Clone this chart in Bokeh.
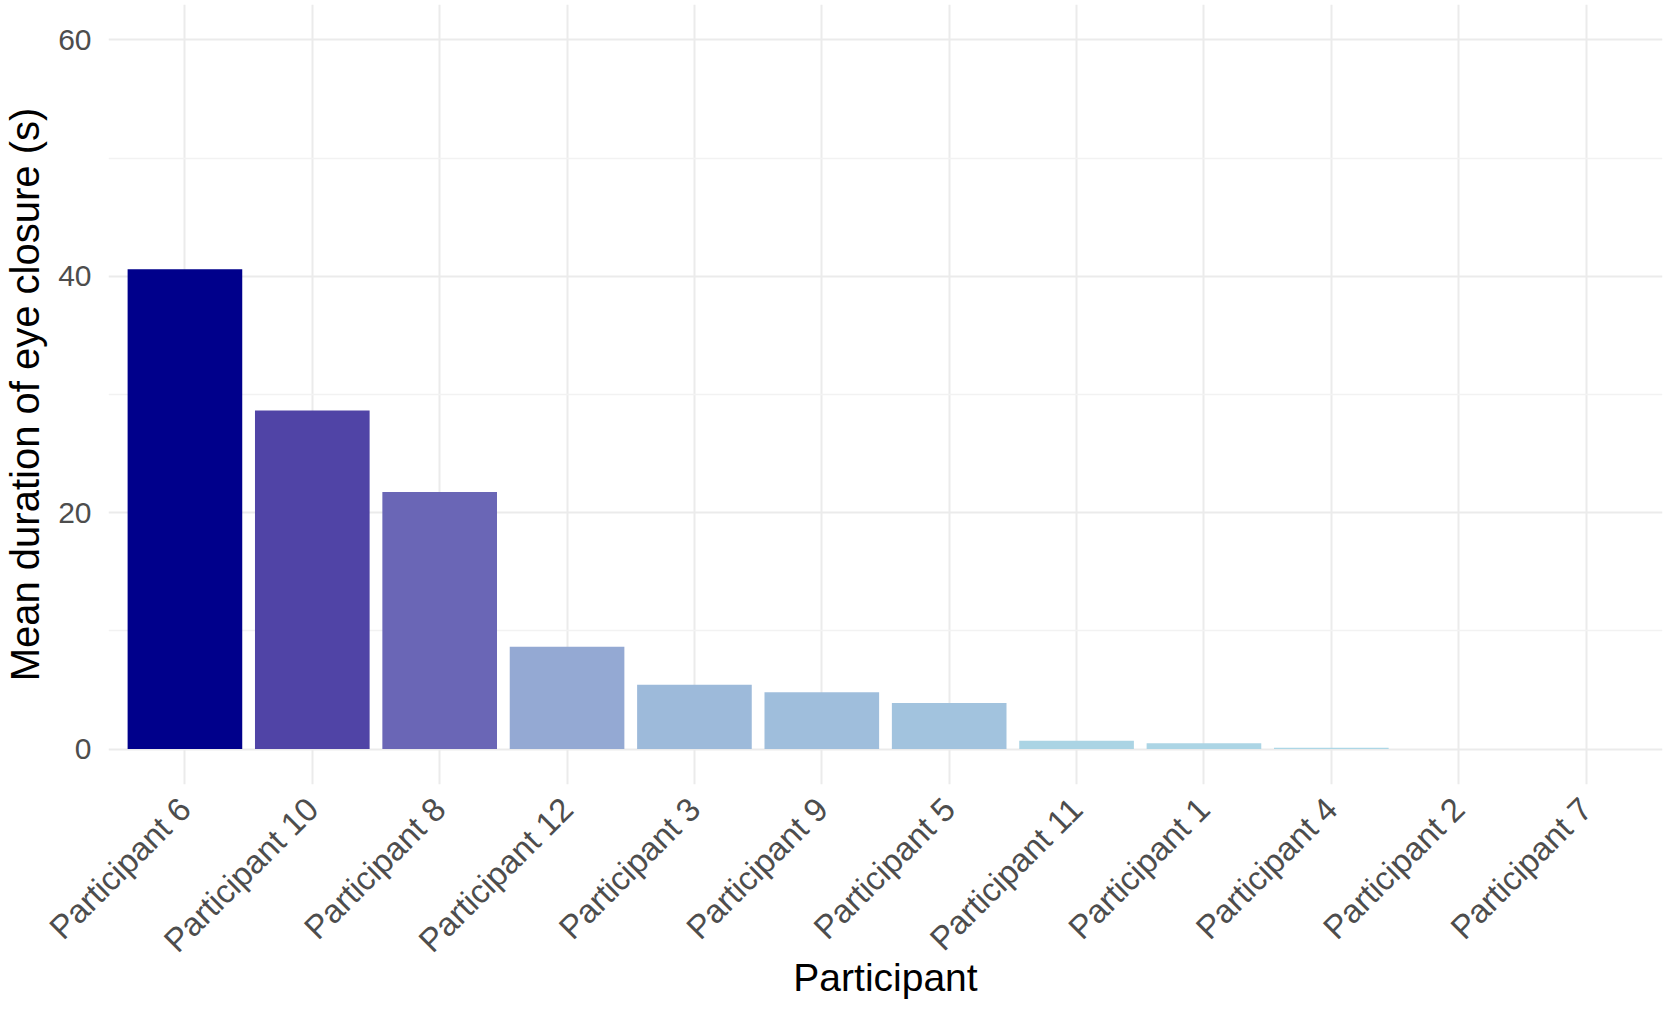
import math
from bokeh.plotting import figure
from bokeh.models import ColumnDataSource, FixedTicker, Range1d
from bokeh.embed import file_html
from bokeh.resources import INLINE

participants = ["Participant 6", "Participant 10", "Participant 8", "Participant 12",
                "Participant 3", "Participant 9", "Participant 5", "Participant 11",
                "Participant 1", "Participant 4", "Participant 2", "Participant 7"]
mean_closure = [40.6, 28.65, 21.75, 8.65, 5.45, 4.8, 3.9, 0.7, 0.48, 0.1, 0.0, 0.0]
y_ticks = [0, 20, 40, 60]
y_minor = [10, 30, 50]

LOW = "#ADD8E6"   # lightblue
HIGH = "#00008B"  # darkblue


def _hex_to_rgb(h):
    h = h.lstrip("#")
    return [int(h[i:i + 2], 16) / 255 for i in (0, 2, 4)]


def _lin(c):
    return c / 12.92 if c <= 0.04045 else ((c + 0.055) / 1.055) ** 2.4


def _gam(c):
    c = max(0.0, min(1.0, c))
    return 12.92 * c if c <= 0.0031308 else 1.055 * c ** (1 / 2.4) - 0.055


WX, WY, WZ = 0.95047, 1.0, 1.08883


def _f(t):
    return t ** (1 / 3) if t > 216 / 24389 else (24389 / 27 * t + 16) / 116


def _finv(t):
    return t ** 3 if t ** 3 > 216 / 24389 else (116 * t - 16) / (24389 / 27)


def to_lab(h):
    r, g, b = [_lin(c) for c in _hex_to_rgb(h)]
    x = 0.4124 * r + 0.3576 * g + 0.1805 * b
    y = 0.2126 * r + 0.7152 * g + 0.0722 * b
    z = 0.0193 * r + 0.1192 * g + 0.9505 * b
    fx, fy, fz = _f(x / WX), _f(y / WY), _f(z / WZ)
    return 116 * fy - 16, 500 * (fx - fy), 200 * (fy - fz)


def from_lab(L, a, b):
    fy = (L + 16) / 116
    fx = fy + a / 500
    fz = fy - b / 200
    x, y, z = WX * _finv(fx), WY * _finv(fy), WZ * _finv(fz)
    r = 3.2406 * x - 1.5372 * y - 0.4986 * z
    g = -0.9689 * x + 1.8758 * y + 0.0415 * z
    bb = 0.0557 * x - 0.2040 * y + 1.0570 * z
    return "#%02x%02x%02x" % tuple(int(round(_gam(c) * 255)) for c in (r, g, bb))


lo, hi = to_lab(LOW), to_lab(HIGH)
vmin, vmax = min(mean_closure), max(mean_closure)
colors = []
for v in mean_closure:
    t = (v - vmin) / (vmax - vmin)
    colors.append(from_lab(*[lo[i] + t * (hi[i] - lo[i]) for i in range(3)]))

source = ColumnDataSource(dict(x=participants, top=mean_closure, color=colors))

p = figure(x_range=participants, width=1667, height=1012,
           output_backend="svg", toolbar_location=None,
           min_border_left=106, min_border_right=5, min_border_top=4,
           min_border_bottom=228)
p.x_range.range_padding = 0.1
p.x_range.range_padding_units = "absolute"
p.y_range = Range1d(-3, 63)

p.vbar(x="x", top="top", bottom=0, width=0.9, fill_color="color",
       line_color=None, source=source)

p.outline_line_color = None
p.background_fill_color = "white"

for ax in (p.xaxis[0], p.yaxis[0]):
    ax.axis_line_color = None
    ax.major_tick_line_color = None
    ax.minor_tick_line_color = None
    ax.major_tick_out = 0
    ax.major_tick_in = 0
    ax.minor_tick_out = 0
    ax.minor_tick_in = 0
    ax.major_label_text_font = "Liberation Sans"
    ax.major_label_text_color = "#4D4D4D"
    ax.axis_label_text_font = "Liberation Sans"
    ax.axis_label_text_font_size = "39px"
    ax.axis_label_text_font_style = "normal"
    ax.axis_label_text_color = "black"

p.yaxis.ticker = FixedTicker(ticks=y_ticks, minor_ticks=y_minor)
p.yaxis.axis_label = "Mean duration of eye closure (s)"
p.yaxis.axis_label_text_font_size = "40px"
p.yaxis.major_label_text_font_size = "30px"
p.yaxis.major_label_standoff = 17
p.yaxis.axis_label_standoff = 8

p.xaxis.axis_label = "Participant"
p.xaxis.major_label_text_font_size = "33px"
p.xaxis.major_label_orientation = math.pi / 4
p.xaxis.major_label_standoff = 19
p.xaxis.axis_label_standoff = -19

p.xgrid.grid_line_color = "#EBEBEB"
p.xgrid.grid_line_width = 2
p.ygrid.grid_line_color = "#EBEBEB"
p.ygrid.grid_line_width = 2
p.ygrid.minor_grid_line_color = "#F2F2F2"
p.ygrid.minor_grid_line_width = 1.5

open("out.html", "w").write(file_html(p, INLINE))
